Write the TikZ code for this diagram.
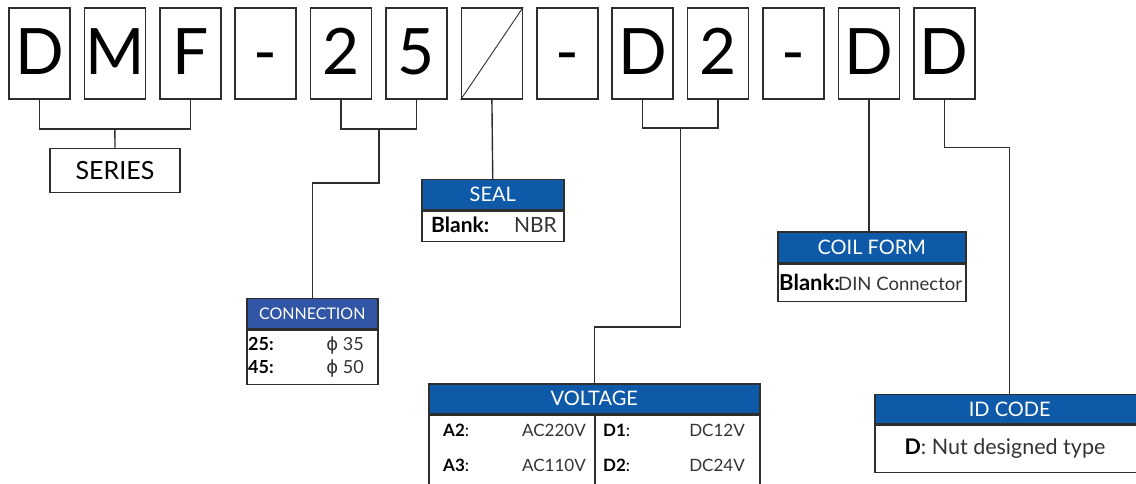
\documentclass[tikz,border=0pt]{standalone}
\usepackage{fontspec}
\setmainfont{Lato}
\newfontfamily\symfont{DejaVu Sans}

\definecolor{headblue}{HTML}{0E5AA8}
\definecolor{connblue}{HTML}{3256A6}
\definecolor{linegray}{HTML}{2E2E2E}
\definecolor{textgray}{HTML}{333333}

\begin{document}
\begin{tikzpicture}[x=1pt,y=-1pt,
        codebox/.style={draw=linegray,line width=1.5pt,minimum width=61pt,minimum height=91pt,
            inner sep=0pt,text height=42pt,text depth=0pt,font=\fontsize{64}{64}\selectfont},
        head/.style={draw=linegray,line width=1.5pt,fill=headblue,text=white,inner sep=0pt,
            anchor=north west,font=\fontsize{20}{20}\selectfont},
        body/.style={draw=linegray,line width=1.5pt,inner sep=0pt,anchor=north west},
        link/.style={draw=linegray,line width=1.4pt},
        lbl/.style={anchor=base west,inner sep=0pt,font=\fontsize{#1}{#1}\selectfont},
        val/.style={anchor=base east,inner sep=0pt,text=textgray,font=\fontsize{#1}{#1}\selectfont}]
        \useasboundingbox (0,0) rectangle (1136,484);

        % Code boxes
        \node [codebox] (cD)     at (39.5,53.5)  {D};
        \node [codebox] (cM)     at (114.9,53.5) {M};
        \node [codebox] (cF)     at (190.3,53.5) {F};
        \node [codebox] (cDashA) at (265.7,53.5) {-};
        \node [codebox] (cTwoA)  at (341.1,53.5) {2};
        \node [codebox] (cFive)  at (416.5,53.5) {5};
        \node [codebox] (cSlash) at (491.9,53.5) {};
        \node [codebox] (cDashB) at (567.3,53.5) {-};
        \node [codebox] (cDB)    at (642.7,53.5) {D};
        \node [codebox] (cTwoB)  at (718.1,53.5) {2};
        \node [codebox] (cDashC) at (793.5,53.5) {-};
        \node [codebox] (cDC)    at (868.9,53.5) {D};
        \node [codebox] (cDD)    at (944.3,53.5) {D};
        \draw [linegray,line width=0.9pt] (cSlash.south west) -- (cSlash.north east);

        % Series
        \node [draw=linegray,line width=1.5pt,minimum width=130pt,minimum height=44pt,inner sep=0pt,
            font=\fontsize{25}{25}\selectfont] (series) at (115,170.5) {SERIES};

        % Connection
        \node [head,fill=connblue,minimum width=131pt,minimum height=30.5pt,
            font=\fontsize{16}{16}\selectfont] (connHead) at (246,297.5) {CONNECTION};
        \node [body,minimum width=131pt,minimum height=54pt] (connBody) at (connHead.south west) {};
        \node [lbl=18,font=\bfseries\fontsize{18}{18}\selectfont] (connK1) at (248,350.5) {25:};
        \node [val=18] (connV1) at (364,350.5) {{\symfont ϕ} 35};
        \node [lbl=18,font=\bfseries\fontsize{18}{18}\selectfont] (connK2) at (248,373.5) {45:};
        \node [val=18] (connV2) at (364,373.5) {{\symfont ϕ} 50};

        % Seal
        \node [head,minimum width=142pt,minimum height=30pt] (sealHead) at (421,179) {SEAL};
        \node [body,minimum width=142pt,minimum height=30pt] (sealBody) at (sealHead.south west) {};
        \node [lbl=21,font=\bfseries\fontsize{21}{21}\selectfont] (sealK) at (431,233) {Blank:};
        \node [val=21] (sealV) at (557,233) {NBR};

        % Voltage
        \node [head,minimum width=331pt,minimum height=29.5pt] (voltHead) at (428,383) {VOLTAGE};
        \node [body,minimum width=331pt,minimum height=80pt] (voltBody) at (voltHead.south west) {};
        \draw [draw=linegray,line width=1.5pt] ([xshift=167pt]voltBody.north west)
            -- ([xshift=167pt]voltBody.south west);
        \node [lbl=17] (voltK1) at (443,436.5) {\textbf{A2}:};
        \node [val=17] (voltV1) at (586,436.5) {AC220V};
        \node [lbl=17] (voltK2) at (443,471.5) {\textbf{A3}:};
        \node [val=17] (voltV2) at (586,471.5) {AC110V};
        \node [lbl=17] (voltK3) at (603,436.5) {\textbf{D1}:};
        \node [val=17] (voltV3) at (745,436.5) {DC12V};
        \node [lbl=17] (voltK4) at (603,471.5) {\textbf{D2}:};
        \node [val=17] (voltV4) at (745,471.5) {DC24V};

        % Coil form
        \node [head,minimum width=188pt,minimum height=31pt] (coilHead) at (777,231) {COIL FORM};
        \node [body,minimum width=188pt,minimum height=37pt] (coilBody) at (coilHead.south west) {};
        \node [lbl=22,font=\bfseries\fontsize{22}{22}\selectfont] (coilK) at (779,290) {Blank:};
        \node [lbl=18.5,text=textgray] (coilV) at (838,290) {DIN Connector};

        % ID code
        \node [head,minimum width=270pt,minimum height=29.5pt] (idHead) at (874,393.5) {ID CODE};
        \node [body,minimum width=270pt,minimum height=47pt] (idBody) at (idHead.south west) {};
        \node [anchor=base,inner sep=0pt,text=textgray,font=\fontsize{21.5}{21.5}\selectfont]
            (idV) at (1005,454) {{\color{black}\textbf{D}}: Nut designed type};

        % Connectors
        \coordinate (jSeries) at (114.9,129);
        \draw [link] (cD.south) |- (jSeries) -| (cF.south);
        \draw [link] (jSeries) -- (series.north);
        \coordinate (jConn) at (378.8,129);
        \draw [link] (cTwoA.south) |- (jConn) -| (cFive.south);
        \draw [link] (jConn) -- ++(0,54) -| (connHead.north);
        \draw [link] (cSlash.south) -- (sealHead.north);
        \coordinate (jVolt) at (680.4,128);
        \draw [link] (cDB.south) |- (jVolt) -| (cTwoB.south);
        \draw [link] (jVolt) -- ++(0,199) -| (voltHead.north);
        \draw [link] (cDC.south) -- (cDC.south |- coilHead.north);
        \draw [link] (cDD.south) -- ++(0,48) -| (idHead.north);
    \end{tikzpicture}
\end{document}
